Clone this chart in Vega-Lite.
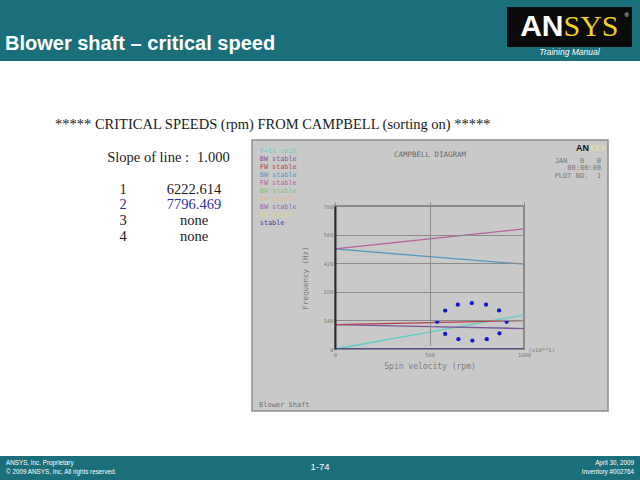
{
  "$schema": "https://vega.github.io/schema/vega-lite/v6.json",
  "background": "white",
  "padding": 0,
  "spacing": 0,
  "bounds": "flush",
  "config": {"view": {"stroke": null}, "font": "Liberation Sans", "concat": {"spacing": 0}},
  "datasets": {
    "one": [{"part": "logo"}],
    "panel": [{"part": "panel"}],
    "modes": [
      {"mode": "0|F=1x spin", "speed": 0, "freq": 0},
      {"mode": "0|F=1x spin", "speed": 500, "freq": 83},
      {"mode": "0|F=1x spin", "speed": 1000, "freq": 167},
      {"mode": "1|BW stable", "speed": 0, "freq": 119},
      {"mode": "1|BW stable", "speed": 500, "freq": 110},
      {"mode": "1|BW stable", "speed": 1000, "freq": 100},
      {"mode": "2|FW stable", "speed": 0, "freq": 119},
      {"mode": "2|FW stable", "speed": 500, "freq": 129},
      {"mode": "2|FW stable", "speed": 1000, "freq": 139},
      {"mode": "3|BW stable", "speed": 0, "freq": 490},
      {"mode": "3|BW stable", "speed": 500, "freq": 452},
      {"mode": "3|BW stable", "speed": 1000, "freq": 415},
      {"mode": "4|FW stable", "speed": 0, "freq": 490},
      {"mode": "4|FW stable", "speed": 500, "freq": 539},
      {"mode": "4|FW stable", "speed": 1000, "freq": 588},
      {"mode": "9|\u00a0\u00a0\u00a0stable", "speed": 0, "freq": 0},
      {"mode": "9|\u00a0\u00a0\u00a0stable", "speed": 500, "freq": 0},
      {"mode": "9|\u00a0\u00a0\u00a0stable", "speed": 1000, "freq": 0}
    ],
    "dots": [
      {"speed": 541, "freq": 133},
      {"speed": 583, "freq": 188},
      {"speed": 583, "freq": 74},
      {"speed": 650, "freq": 217},
      {"speed": 653, "freq": 48},
      {"speed": 724, "freq": 224},
      {"speed": 727, "freq": 41},
      {"speed": 799, "freq": 217},
      {"speed": 803, "freq": 48},
      {"speed": 868, "freq": 189},
      {"speed": 870, "freq": 77},
      {"speed": 908, "freq": 133}
    ],
    "table": [
      {"row": "1", "col": "rank", "txt": "1"},
      {"row": "1", "col": "speed", "txt": "6222.614"},
      {"row": "2", "col": "rank", "txt": "2"},
      {"row": "2", "col": "speed", "txt": "7796.469"},
      {"row": "3", "col": "rank", "txt": "3"},
      {"row": "3", "col": "speed", "txt": "none"},
      {"row": "4", "col": "rank", "txt": "4"},
      {"row": "4", "col": "speed", "txt": "none"}
    ],
    "slope": [
      {"row": "slope", "col": "speed", "label": "Slope of line :", "val": "1.000"}
    ],
    "footer": [
      {"pos": "left", "line": "1", "txt": "ANSYS, Inc. Proprietary"},
      {"pos": "left", "line": "2", "txt": "© 2009 ANSYS, Inc.  All rights reserved."},
      {"pos": "center", "line": "c", "txt": "1-74"},
      {"pos": "right", "line": "1", "txt": "April 30, 2009"},
      {"pos": "right", "line": "2", "txt": "Inventory #002764"}
    ]
  },
  "vconcat": [
    {
      "width": 640, "height": 61,
      "view": {"fill": "#1a6f7b", "stroke": null},
      "title": {"text": "Blower shaft – critical speed", "anchor": "start", "frame": "group", "orient": "top", "offset": -70, "baseline": "alphabetic", "dx": 5, "fontSize": 20, "fontWeight": "bold", "color": "white", "font": "Liberation Sans"},
      "data": {"name": "one"},
      "encoding": {
        "x": {"field": "part", "type": "nominal", "scale": {"type": "band", "domain": ["logo"], "range": [507, 632], "paddingInner": 0, "paddingOuter": 0}, "axis": null},
        "y": {"field": "part", "type": "nominal", "scale": {"type": "band", "domain": ["logo"], "range": [7, 47], "paddingInner": 0, "paddingOuter": 0}, "axis": null}
      },
      "layer": [
        {"mark": {"type": "rect", "color": "#0b0b0b"}},
        {"mark": {"type": "text", "align": "right", "baseline": "middle", "dx": -6, "fontSize": 30, "fontWeight": "bold", "color": "white", "font": "Liberation Sans"}, "encoding": {"text": {"value": "AN"}}},
        {"mark": {"type": "text", "align": "left", "baseline": "middle", "dx": -6, "fontSize": 30, "color": "#f0d21c", "font": "Liberation Serif"}, "encoding": {"text": {"value": "SYS"}}},
        {"mark": {"type": "text", "align": "right", "baseline": "middle", "dx": -3, "dy": 8, "fontSize": 6, "color": "white", "font": "Liberation Sans"}, "encoding": {"x": {"field": "part", "type": "nominal", "bandPosition": 1}, "y": {"field": "part", "type": "nominal", "bandPosition": 0}, "text": {"value": "®"}}},
        {"mark": {"type": "text", "align": "center", "baseline": "middle", "dy": 25, "fontSize": 8.5, "fontStyle": "italic", "color": "white", "font": "Liberation Sans"}, "encoding": {"text": {"value": "Training Manual"}}}
      ]
    },
    {
      "width": 640, "height": 79,
      "title": {"text": "***** CRITICAL SPEEDS (rpm) FROM CAMPBELL (sorting on) *****", "anchor": "start", "frame": "group", "orient": "top", "offset": -82.5, "baseline": "alphabetic", "dx": 55, "fontSize": 14.5, "fontWeight": "normal", "color": "#1a1a1a", "font": "Liberation Serif"},
      "mark": {"type": "text"},
      "encoding": {"text": {"value": ""}}
    },
    {
      "width": 640, "height": 271,
      "title": {"text": "JAN\u00a0\u00a0\u00a00\u00a0\u00a0\u00a00", "subtitle": ["00:00:00", "PLOT\u00a0NO.\u00a0\u00a01"], "anchor": "end", "align": "right", "frame": "group", "orient": "top", "offset": -39.5, "baseline": "top", "dx": -39, "font": "DejaVu Sans Mono", "fontSize": 7, "fontWeight": "normal", "color": "#777777", "subtitleFont": "DejaVu Sans Mono", "subtitleFontSize": 7, "subtitleColor": "#777777", "subtitlePadding": 0.5, "subtitleLineHeight": 7.5},
      "layer": [
        {
          "data": {"name": "panel"},
          "mark": {"type": "rect", "fill": "#c9c9c9", "stroke": "#8e8e8e", "strokeWidth": 1.5},
          "encoding": {
            "x": {"field": "part", "type": "nominal", "scale": {"type": "band", "domain": ["panel"], "range": [252, 608], "paddingInner": 0, "paddingOuter": 0}, "axis": null},
            "y": {"field": "part", "type": "nominal", "scale": {"type": "band", "domain": ["panel"], "range": [0, 271], "paddingInner": 0, "paddingOuter": 0}, "axis": null}
          }
        },
        {
          "data": {"name": "panel"},
          "mark": {"type": "rect", "filled": false, "fill": null, "stroke": "#8a8a8a", "strokeWidth": 2},
          "encoding": {
            "x": {"datum": 0, "type": "quantitative", "scale": {"domain": [0, 1000], "range": [335, 524], "nice": false, "zero": false}, "axis": null},
            "x2": {"datum": 1000},
            "y": {"datum": 0, "type": "quantitative", "scale": {"domain": [0, 700], "range": [209, 66], "nice": false}, "axis": null},
            "y2": {"datum": 700}
          }
        },
        {
          "data": {"name": "modes"},
          "mark": {"type": "line", "strokeWidth": 1.3},
          "encoding": {
            "x": {
              "field": "speed", "type": "quantitative",
              "scale": {"domain": [0, 1000], "range": [335, 524], "nice": false, "zero": false},
              "axis": {"values": [0, 500, 1000], "format": "d", "zindex": 1, "title": "Spin velocity (rpm)", "titleFont": "DejaVu Sans Mono", "titleFontSize": 8, "titleFontWeight": "normal", "titleColor": "#7a7a7a", "titlePadding": 5, "labelFont": "DejaVu Sans Mono", "labelFontSize": 5.5, "labelColor": "#7a7a7a", "labelPadding": 3, "labelFlush": false, "labelOverlap": false, "tickSize": 0, "domain": false, "grid": true, "gridColor": "#8a8a8a", "gridWidth": 1, "offset": -62}
            },
            "y": {
              "field": "freq", "type": "quantitative",
              "scale": {"domain": [0, 700], "range": [209, 66], "nice": false},
              "axis": {"values": [0, 140, 280, 420, 560, 700], "zindex": 1, "title": "Frequency (Hz)", "titleFont": "DejaVu Sans Mono", "titleFontSize": 7.5, "titleFontWeight": "normal", "titleColor": "#7a7a7a", "titlePadding": 14, "labelFont": "DejaVu Sans Mono", "labelFontSize": 5.5, "labelColor": "#7a7a7a", "labelPadding": 2, "labelFlush": false, "labelOverlap": false, "tickSize": 0, "domain": true, "domainColor": "#2a2a2a", "domainWidth": 2, "grid": true, "gridColor": "#8a8a8a", "gridWidth": 1, "offset": -335}
            },
            "color": {
              "field": "mode", "type": "nominal",
              "scale": {
                "domain": ["0|F=1x spin", "1|BW stable", "2|FW stable", "3|BW stable", "4|FW stable", "5|BW stable", "6|FW stable", "7|BW stable", "8|FW stable", "9|\u00a0\u00a0\u00a0stable"],
                "range": ["#5ccfc4", "#7a58a0", "#b8404e", "#4f98c4", "#b8609a", "#7fc47f", "#e6b88c", "#8a68b0", "#d8d88c", "#3c3c96"]
              },
              "legend": {
                "orient": "none", "legendX": 253, "legendY": 147.5, "padding": 0, "title": null,
                "symbolSize": 0, "symbolStrokeWidth": 0, "symbolOpacity": 0, "labelOffset": 0,
                "labelFont": "DejaVu Sans Mono", "labelFontSize": 6.8, "rowPadding": 0,
                "labelExpr": "split(datum.label, '|')[1]",
                "encode": {"labels": {"update": {"fill": {"scale": "color", "field": "value"}}}}
              }
            }
          }
        },
        {
          "data": {"name": "dots"},
          "mark": {"type": "point", "filled": true, "color": "#1414d6", "opacity": 1, "size": 18},
          "encoding": {
            "x": {"field": "speed", "type": "quantitative", "scale": {"domain": [0, 1000], "range": [335, 524], "nice": false, "zero": false}, "axis": {"orient": "top", "title": "CAMPBELL DIAGRAM", "labels": false, "ticks": false, "domain": false, "grid": false, "offset": -20, "titlePadding": 2, "titleFont": "DejaVu Sans Mono", "titleFontSize": 7.5, "titleFontWeight": "normal", "titleColor": "#6a6a6a", "zindex": 1}},
            "y": {"field": "freq", "type": "quantitative", "scale": {"domain": [0, 700], "range": [209, 66], "nice": false}, "axis": {"orient": "right", "values": [0], "labelExpr": "'(x10**1)'", "ticks": false, "domain": false, "grid": false, "title": null, "offset": -116, "labelPadding": 4, "labelFont": "DejaVu Sans Mono", "labelFontSize": 5.5, "labelColor": "#777777", "zindex": 1}}
          }
        },
        {
          "data": {"name": "table"},
          "mark": {"type": "text", "font": "Liberation Serif", "fontSize": 14.5, "baseline": "alphabetic", "align": "center"},
          "encoding": {
            "x": {"field": "col", "type": "nominal", "scale": {"type": "point", "domain": ["rank", "speed"], "range": [123, 194], "padding": 0}, "axis": null},
            "y": {"field": "row", "type": "ordinal", "scale": {"type": "point", "domain": ["slope", "gap", "1", "2", "3", "4"], "range": [22, 101], "padding": 0}, "axis": null},
            "text": {"field": "txt"},
            "color": {"condition": {"test": "datum.row === '2'", "value": "#2f2fa0"}, "value": "#1a1a1a"}
          }
        },
        {
          "data": {"name": "slope"},
          "mark": {"type": "text", "font": "Liberation Serif", "fontSize": 14.5, "baseline": "alphabetic", "align": "right", "dx": -5, "color": "#1a1a1a"},
          "encoding": {
            "x": {"field": "col", "type": "nominal", "scale": {"type": "point", "domain": ["rank", "speed"], "range": [123, 194], "padding": 0}, "axis": null},
            "y": {"field": "row", "type": "ordinal", "scale": {"type": "point", "domain": ["slope", "gap", "1", "2", "3", "4"], "range": [22, 101], "padding": 0}, "axis": null},
            "text": {"field": "label"}
          }
        },
        {
          "data": {"name": "slope"},
          "mark": {"type": "text", "font": "Liberation Serif", "fontSize": 14.5, "baseline": "alphabetic", "align": "left", "dx": 3, "color": "#1a1a1a"},
          "encoding": {
            "x": {"field": "col", "type": "nominal", "scale": {"type": "point", "domain": ["rank", "speed"], "range": [123, 194], "padding": 0}, "axis": null},
            "y": {"field": "row", "type": "ordinal", "scale": {"type": "point", "domain": ["slope", "gap", "1", "2", "3", "4"], "range": [22, 101], "padding": 0}, "axis": null},
            "text": {"field": "val"}
          }
        },
        {
          "data": {"name": "panel"},
          "mark": {"type": "text", "align": "left", "baseline": "bottom", "dx": 7, "dy": -3, "font": "DejaVu Sans Mono", "fontSize": 7, "color": "#6e6e6e"},
          "encoding": {
            "x": {"field": "part", "type": "nominal", "bandPosition": 0, "scale": {"type": "band", "domain": ["panel"], "range": [252, 608], "paddingInner": 0, "paddingOuter": 0}, "axis": null},
            "y": {"field": "part", "type": "nominal", "bandPosition": 1, "scale": {"type": "band", "domain": ["panel"], "range": [0, 271], "paddingInner": 0, "paddingOuter": 0}, "axis": null},
            "text": {"value": "Blower Shaft"}
          }
        },
        {
          "data": {"name": "panel"},
          "mark": {"type": "text", "align": "right", "baseline": "middle", "dx": -19, "dy": 8, "font": "Liberation Sans", "fontSize": 9, "fontWeight": "bold", "color": "#111111"},
          "encoding": {
            "x": {"field": "part", "type": "nominal", "bandPosition": 1, "scale": {"type": "band", "domain": ["panel"], "range": [252, 608], "paddingInner": 0, "paddingOuter": 0}, "axis": null},
            "y": {"field": "part", "type": "nominal", "bandPosition": 0, "scale": {"type": "band", "domain": ["panel"], "range": [0, 271], "paddingInner": 0, "paddingOuter": 0}, "axis": null},
            "text": {"value": "AN"}
          }
        },
        {
          "data": {"name": "panel"},
          "mark": {"type": "text", "align": "left", "baseline": "middle", "dx": -19, "dy": 8, "font": "Liberation Serif", "fontSize": 9, "fontWeight": "bold", "color": "#e4df9a"},
          "encoding": {
            "x": {"field": "part", "type": "nominal", "bandPosition": 1, "scale": {"type": "band", "domain": ["panel"], "range": [252, 608], "paddingInner": 0, "paddingOuter": 0}, "axis": null},
            "y": {"field": "part", "type": "nominal", "bandPosition": 0, "scale": {"type": "band", "domain": ["panel"], "range": [0, 271], "paddingInner": 0, "paddingOuter": 0}, "axis": null},
            "text": {"value": "SYS"}
          }
        }
      ],
      "resolve": {"scale": {"x": "independent", "y": "independent"}, "axis": {"x": "independent", "y": "independent"}}
    },
    {
      "width": 640, "height": 45,
      "mark": {"type": "text"},
      "encoding": {"text": {"value": ""}}
    },
    {
      "width": 640, "height": 24,
      "view": {"fill": "#1a6f7b", "stroke": null},
      "data": {"name": "footer"},
      "encoding": {
        "x": {"field": "pos", "type": "nominal", "scale": {"type": "band", "domain": ["left", "center", "right"], "range": [0, 640], "paddingInner": 0, "paddingOuter": 0}, "axis": null},
        "y": {"field": "line", "type": "ordinal", "scale": {"type": "point", "domain": ["1", "c", "2"], "range": [7, 15.5], "padding": 0}, "axis": null},
        "text": {"field": "txt"}
      },
      "layer": [
        {"transform": [{"filter": "datum.pos === 'left'"}], "mark": {"type": "text", "align": "left", "baseline": "middle", "dx": 6, "fontSize": 6.3, "color": "white", "font": "Liberation Sans"}, "encoding": {"x": {"field": "pos", "type": "nominal", "bandPosition": 0}}},
        {"transform": [{"filter": "datum.pos === 'center'"}], "mark": {"type": "text", "align": "center", "baseline": "middle", "fontSize": 9.5, "color": "white", "font": "Liberation Sans"}, "encoding": {"x": {"field": "pos", "type": "nominal", "bandPosition": 0.5}}},
        {"transform": [{"filter": "datum.pos === 'right'"}], "mark": {"type": "text", "align": "right", "baseline": "middle", "dx": -6, "fontSize": 6.3, "color": "white", "font": "Liberation Sans"}, "encoding": {"x": {"field": "pos", "type": "nominal", "bandPosition": 1}}}
      ]
    }
  ]
}
